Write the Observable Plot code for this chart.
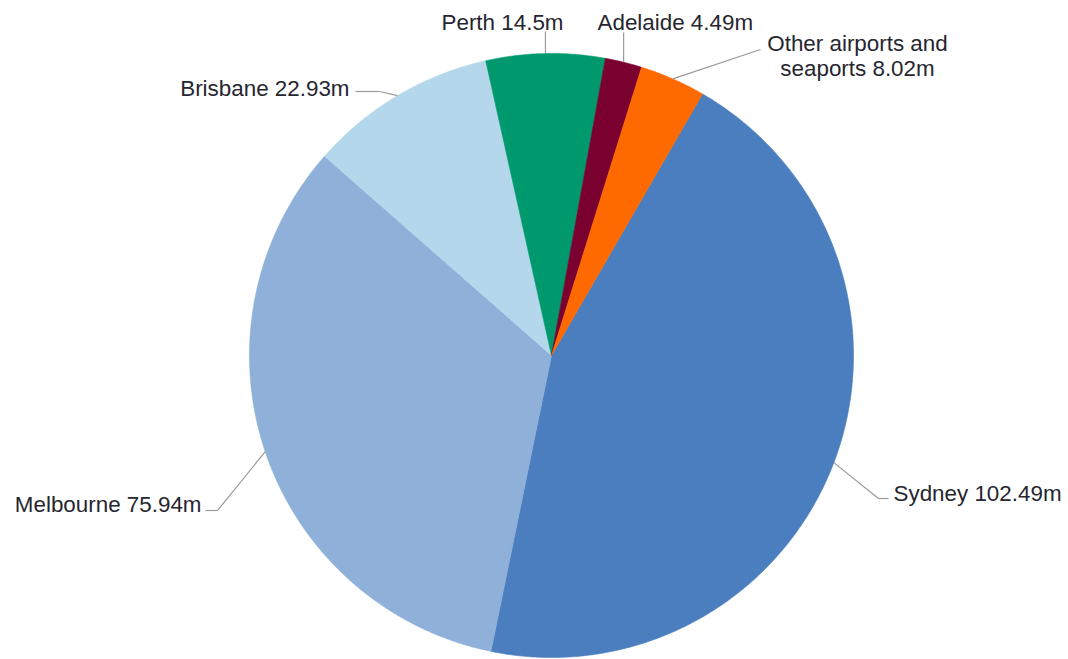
<!DOCTYPE html>
<html>
<head>
<meta charset="utf-8">
<script src="https://cdn.jsdelivr.net/npm/d3@7"></script>
<script src="https://cdn.jsdelivr.net/npm/@observablehq/plot@0.6"></script>
<style>
  html, body { margin: 0; padding: 0; background: #fff; }
</style>
</head>
<body>
<div id="chart"></div>
<script>
// ---- data ----
const names  = ["Sydney", "Melbourne", "Brisbane", "Perth", "Adelaide", "Other airports and seaports"];
const values = [102.49, 75.94, 22.93, 14.5, 4.49, 8.02];
const labels = ["Sydney 102.49m", "Melbourne 75.94m", "Brisbane 22.93m", "Perth 14.5m", "Adelaide 4.49m", "Other airports and\nseaports 8.02m"];
const colors = ["#4a7ebf", "#8eb0d9", "#b5d7eb", "#00996e", "#7a0030", "#ff6a00"];

// ---- geometry (units: pixels relative to pie centre, y up) ----
const R = 302;
const startDeg = 30;                 // first slice (Sydney) starts here, clockwise from 12 o'clock
const total = d3.sum(values);
const rad = d => d * Math.PI / 180;
const polar = (deg, r) => ({x: r * Math.sin(rad(deg)), y: r * Math.cos(rad(deg))});

let acc = startDeg;
const slices = names.map((name, i) => {
  const a0 = acc, a1 = acc + values[i] / total * 360;
  acc = a1;
  return {name, a0, a1, mid: (a0 + a1) / 2};
});

const polys = [];
slices.forEach(s => {
  polys.push({name: s.name, x: 0, y: 0});
  const n = Math.max(4, Math.ceil((s.a1 - s.a0) / 0.5));
  for (let k = 0; k <= n; k++) {
    const p = polar(s.a0 + (s.a1 - s.a0) * k / n, R);
    polys.push({name: s.name, x: p.x, y: p.y});
  }
  polys.push({name: s.name, x: 0, y: 0});
});

// label layout (leader line elbows / ends and text positions)
const layout = {
  "Sydney":    {pts: [[327, -143], [337, -143]], tx: 342, ty: -137, anchor: "start"},
  "Melbourne": {pts: [[-334, -155], [-346, -155]], tx: -350, ty: -148, anchor: "end"},
  "Brisbane":  {pts: [[-172, 264], [-196, 264]], tx: -202, ty: 268, anchor: "end"},
  "Perth":     {pts: [[null, 324]], tx: -49, ty: 334, anchor: "middle"},
  "Adelaide":  {pts: [[null, 323]], tx: 46, ty: 334, anchor: "start"},
  "Other airports and seaports": {pts: [[209, 306]], tx: 306, ty: 300, anchor: "middle"}
};

const leaders = [];
const texts = [];
slices.forEach((s, i) => {
  const L = layout[s.name];
  const p0 = polar(s.mid, R);
  let prev = p0;
  L.pts.forEach(([x, y]) => {
    const p = {x: x === null ? prev.x : x, y};
    leaders.push({x1: prev.x, y1: prev.y, x2: p.x, y2: p.y});
    prev = p;
  });
  texts.push({x: L.tx, y: L.ty, text: labels[i], anchor: L.anchor});
});

const fs = 22.4;
const chart = Plot.plot({
  width: 1068,
  height: 659,
  margin: 0,
  x: {domain: [-R, R], range: [249, 853], axis: null},
  y: {domain: [-R, R], range: [657, 53], axis: null},
  color: {domain: names, range: colors},
  style: {fontFamily: "'Liberation Sans', Arial, sans-serif", background: "#fff"},
  marks: [
    Plot.line(polys, {x: "x", y: "y", z: "name", fill: "name", stroke: "name", strokeWidth: 0.6, curve: "linear"}),
    Plot.link(leaders, {x1: "x1", y1: "y1", x2: "x2", y2: "y2", stroke: "#9a9a9a", strokeWidth: 1.2}),
    Plot.text(texts.filter(d => d.anchor === "start"), {x: "x", y: "y", text: "text", textAnchor: "start", fontSize: fs, fill: "#262630", lineHeight: 1.13}),
    Plot.text(texts.filter(d => d.anchor === "end"), {x: "x", y: "y", text: "text", textAnchor: "end", fontSize: fs, fill: "#262630", lineHeight: 1.13}),
    Plot.text(texts.filter(d => d.anchor === "middle"), {x: "x", y: "y", text: "text", textAnchor: "middle", fontSize: fs, fill: "#262630", lineHeight: 1.13})
  ]
});
document.getElementById("chart").appendChild(chart);
</script>
</body>
</html>
